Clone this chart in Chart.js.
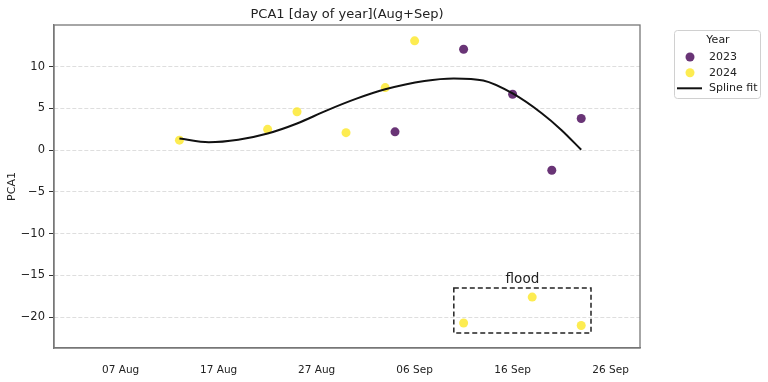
<!DOCTYPE html>
<html>
<head>
<meta charset="utf-8">
<script src="https://cdn.jsdelivr.net/npm/chart.js@4"></script>
<style>
  html, body { margin: 0; padding: 0; background: #fff; }
  #wrap { width: 768px; height: 382px; }
</style>
</head>
<body>
<div id="wrap"><canvas id="myChart" width="768" height="382"></canvas></div>
<script>
// day of year (2023 calendar) and PCA1 values
const days2023 = [247, 254, 259, 263, 266];
const pca2023 = [2.2, 12.1, 6.7, -2.4, 3.8];
const days2024 = [225, 234, 237, 242, 246, 249, 254, 261, 266];
const pca2024 = [1.2, 2.5, 4.6, 2.1, 7.5, 13.1, -20.7, -17.6, -21.0];

// spline fit curve
const splineDays = [225, 228, 231, 234, 237, 240, 243, 246, 250, 253, 256, 259, 262, 264, 266];
const splineVals = [1.4, 0.95, 1.25, 2.0, 3.2, 4.75, 6.15, 7.3, 8.3, 8.6, 8.35, 6.8, 4.4, 2.4, 0.05];

const xTicks = [219, 229, 239, 249, 259, 269];
const yTicks = [-20, -15, -10, -5, 0, 5, 10];

// flood annotation box (day range, PCA1 range)
const floodX = [253, 267];
const floodY = [-21.9, -16.5];
const floodLabel = 'flood';

const purple = 'rgba(68, 1, 84, 0.8)';
const yellow = 'rgba(253, 231, 37, 0.8)';
const months = ['Jan','Feb','Mar','Apr','May','Jun','Jul','Aug','Sep','Oct','Nov','Dec'];

const doyToLabel = (doy) => {
    const d = new Date(2023, 0, doy);
    let day = d.getDate();
    if (day < 10) day = '0' + day;
    return day + ' ' + months[d.getMonth()];
};

const toPoints = (xs, ys) => xs.map((x, i) => ({x: x, y: ys[i]}));

// frame, flood box and legend
const extras = {
    id: 'extras',
    afterDatasetsDraw(chart) {
        const ctx = chart.ctx;
        const a = chart.chartArea;
        const xs = chart.scales.x, ys = chart.scales.y;
        ctx.save();
        // dashed flood box
        const x0 = xs.getPixelForValue(floodX[0]), x1 = xs.getPixelForValue(floodX[1]);
        const y0 = ys.getPixelForValue(floodY[1]), y1 = ys.getPixelForValue(floodY[0]);
        ctx.strokeStyle = '#222';
        ctx.lineWidth = 1.5;
        ctx.setLineDash([5, 3]);
        ctx.strokeRect(x0, y0, x1 - x0, y1 - y0);
        ctx.setLineDash([]);
        ctx.fillStyle = '#222';
        ctx.font = '13.5px "DejaVu Sans"';
        ctx.textAlign = 'center';
        ctx.textBaseline = 'bottom';
        ctx.fillText(floodLabel, (x0 + x1) / 2, y0 - 2);
        // axes frame
        ctx.strokeStyle = '#777';
        ctx.lineWidth = 1.3;
        ctx.strokeRect(a.left, a.top, a.right - a.left, a.bottom - a.top);
        ctx.restore();
    },
    afterDraw(chart) {
        const ctx = chart.ctx;
        ctx.save();
        const bx = 674.5, by = 30.5, bw = 86, bh = 68;
        ctx.strokeStyle = '#d0d0d0';
        ctx.lineWidth = 1;
        ctx.beginPath();
        ctx.roundRect(bx, by, bw, bh, 3);
        ctx.stroke();
        ctx.fillStyle = '#222';
        ctx.font = '11px "DejaVu Sans"';
        ctx.textBaseline = 'middle';
        ctx.textAlign = 'center';
        ctx.fillText('Year', 718, 40);
        ctx.textAlign = 'left';
        const ds = chart.data.datasets;
        const rows = [57, 72.7, 88.3];
        ds.forEach((d, i) => {
            const y = rows[i];
            if (d.showLine) {
                ctx.strokeStyle = d.borderColor;
                ctx.lineWidth = 2;
                ctx.beginPath();
                ctx.moveTo(677, y);
                ctx.lineTo(702, y);
                ctx.stroke();
            } else {
                ctx.fillStyle = d.backgroundColor;
                ctx.beginPath();
                ctx.arc(690, y, 4.5, 0, Math.PI * 2);
                ctx.fill();
            }
            ctx.fillStyle = '#222';
            ctx.fillText(d.label, 709, y);
        });
        ctx.restore();
    }
};

new Chart(document.getElementById('myChart'), {
    type: 'scatter',
    data: {
        datasets: [
            {
                label: '2023',
                data: toPoints(days2023, pca2023),
                backgroundColor: purple,
                borderWidth: 0,
                pointRadius: 4.5,
                order: 1
            },
            {
                label: '2024',
                data: toPoints(days2024, pca2024),
                backgroundColor: yellow,
                borderWidth: 0,
                pointRadius: 4.5,
                order: 2
            },
            {
                label: 'Spline fit',
                data: toPoints(splineDays, splineVals),
                showLine: true,
                borderColor: '#111',
                borderWidth: 2,
                pointRadius: 0,
                cubicInterpolationMode: 'monotone',
                order: 0
            }
        ]
    },
    options: {
        responsive: false,
        animation: false,
        layout: { padding: { top: 0, right: 128, left: 0, bottom: 0 } },
        plugins: {
            legend: { display: false },
            tooltip: { enabled: false },
            title: {
                display: true,
                fullSize: false,
                text: 'PCA1 [day of year](Aug+Sep)',
                color: '#222',
                font: { family: 'DejaVu Sans', size: 13, weight: 'normal' },
                padding: { top: 7, bottom: 2.4 }
            }
        },
        scales: {
            x: {
                type: 'linear',
                min: 212.2,
                max: 272,
                afterFit: (s) => { s.height = 34; },
                afterBuildTicks: (s) => { s.ticks = xTicks.map(v => ({value: v})); },
                grid: { display: false, drawTicks: false },
                border: { display: true, color: '#777', width: 1.3 },
                ticks: {
                    padding: 16,
                    color: '#222',
                    font: { family: 'DejaVu Sans', size: 10.5 },
                    maxRotation: 0,
                    callback: (v) => doyToLabel(v)
                }
            },
            y: {
                min: -23.7,
                max: 15,
                afterFit: (s) => { s.width = 54; },
                afterBuildTicks: (s) => { s.ticks = yTicks.map(v => ({value: v})); },
                grid: {
                    color: '#d6d6d6',
                    lineWidth: 0.8,
                    tickColor: '#333',
                    tickLength: 5,
                    tickBorderDash: [],
                    tickWidth: 1
                },
                border: { display: true, color: '#777', width: 1.3, dash: [4, 2] },
                ticks: {
                    padding: 4,
                    color: '#222',
                    font: { family: 'DejaVu Sans', size: 11.5 },
                    callback: (v) => String(v).replace('-', '\u2212')
                },
                title: {
                    display: true,
                    text: 'PCA1',
                    color: '#222',
                    font: { family: 'DejaVu Sans', size: 11 },
                    padding: { top: 6, bottom: 0 }
                }
            }
        }
    },
    plugins: [extras]
});
</script>
</body>
</html>
